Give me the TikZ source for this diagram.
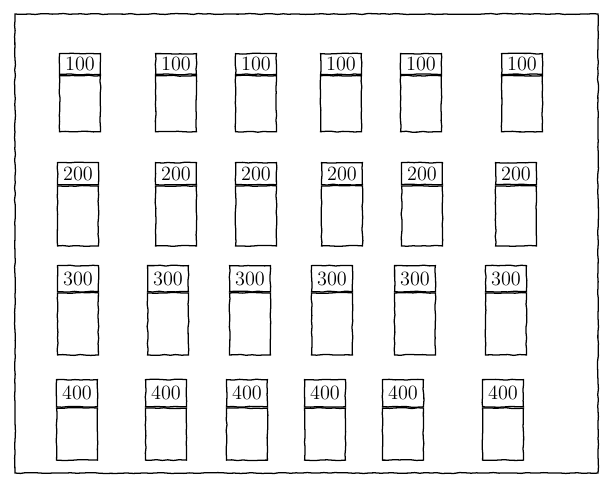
\documentclass[tikz,border=0pt]{standalone}
\usetikzlibrary{positioning,decorations.pathmorphing}
\begin{document}
\begin{tikzpicture}[
  x=0.025cm, y=-0.025cm,
  sketch/.style={draw, line width=0.9pt, decorate,
                 decoration={random steps, segment length=4pt, amplitude=0.35pt}},
  tag/.style={sketch, anchor=north, minimum width=1.02cm, inner sep=0pt,
              font=\Large},
  pocket/.style={sketch, minimum width=1.02cm, inner sep=0pt}
]
  \useasboundingbox (0,0) rectangle (605,484);

  % board outline
  \draw[sketch] (15,14) rectangle (598,473);

  % one row of cards per value
  \foreach \r/\val/\top/\th/\bh/\xs in {
      1/100/53/0.52cm/1.40cm/{80,176,256,341,421,522},
      2/200/162/0.55cm/1.50cm/{78,176,256,342,422,516},
      3/300/265/0.65cm/1.55cm/{78,168,250,332,415,506},
      4/400/379/0.68cm/1.30cm/{77,166,247,325,403,503}}
  {
    \foreach \x [count=\c] in \xs {
      \node[tag, minimum height=\th] (t\r\c) at (\x,\top) {\val};
      \node[pocket, minimum height=\bh, below=0pt of t\r\c] (p\r\c) {};
    }
  }
\end{tikzpicture}
\end{document}
